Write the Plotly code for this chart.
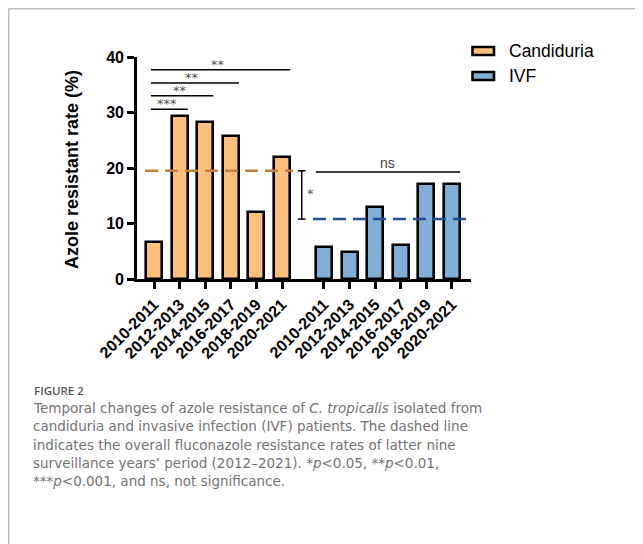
import plotly.graph_objects as go

# ---------------- data ----------------
periods = ["2010-2011", "2012-2013", "2014-2015", "2016-2017", "2018-2019", "2020-2021"]
series_names = ["Candiduria", "IVF"]
candiduria_vals = [6.7, 29.4, 28.2, 25.8, 12.0, 22.0]
ivf_vals = [5.8, 4.9, 13.0, 6.2, 17.1, 17.2]
overall_candiduria = 19.5
overall_ivf = 10.8
y_ticks = [0, 10, 20, 30, 40]
# significance comparisons within candiduria (from index 0 to index j)
cand_sig_targets = [1, 2, 3, 5]
cand_sig_labels = ["***", "**", "**", "**"]
cand_sig_levels = [30.6, 33.0, 35.3, 37.7]
ivf_sig_label = "ns"
ivf_sig_level = 19.3
between_sig_label = "*"

caption_title = "FIGURE 2"
caption_lines = [
    "Temporal changes of azole resistance of <i>C. tropicalis</i> isolated from",
    "candiduria and invasive infection (IVF) patients. The dashed line",
    "indicates the overall fluconazole resistance rates of latter nine",
    "surveillance years\u2019 period (2012\u20132021). *<i>p</i>&lt;0.05, **<i>p</i>&lt;0.01,",
    "***<i>p</i>&lt;0.001, and ns, not significance.",
]

# ---------------- layout constants ----------------
W, H = 643, 544
OFF = 8  # page body margin compensation
FONT = "Liberation Sans, Arial, sans-serif"
CAP_FONT = "DejaVu Sans, Open Sans, sans-serif"
ORANGE = "#FDBF7E"
BLUE = "#80AED6"
ORANGE_LINE = "#C47F3C"
BLUE_LINE = "#1F4E96"
group_gap = 1.64
bar_w = 0.63

cand_x = [i for i in range(len(periods))]
ivf_x = [len(periods) - 1 + group_gap + i for i in range(len(periods))]

def px(x):
    return (x - OFF) / W

def py(y):
    return 1 - (y - OFF) / H

fig = go.Figure()
fig.add_trace(go.Bar(x=cand_x, y=candiduria_vals, width=bar_w, name=series_names[0],
                     marker=dict(color=ORANGE, line=dict(color="black", width=2.6)),
                     showlegend=False))
fig.add_trace(go.Bar(x=ivf_x, y=ivf_vals, width=bar_w, name=series_names[1],
                     marker=dict(color=BLUE, line=dict(color="black", width=2.6)),
                     showlegend=False))

# overall dashed lines
fig.add_trace(go.Scatter(x=[cand_x[0] - 0.35, cand_x[-1] + 0.43], y=[overall_candiduria] * 2,
                         mode="lines", line=dict(color=ORANGE_LINE, width=2.6, dash="13px,7px"),
                         showlegend=False, hoverinfo="skip"))
fig.add_trace(go.Scatter(x=[ivf_x[0] - 0.43, ivf_x[-1] + 0.6], y=[overall_ivf] * 2,
                         mode="lines", line=dict(color=BLUE_LINE, width=2.6, dash="13px,7px"),
                         showlegend=False, hoverinfo="skip"))

shapes = []
annotations = []

# significance lines within candiduria
for j, lab, lev in zip(cand_sig_targets, cand_sig_labels, cand_sig_levels):
    x0 = cand_x[0] - 0.12
    x1 = cand_x[j] + 0.32
    shapes.append(dict(type="line", xref="x", yref="y", x0=x0, x1=x1, y0=lev, y1=lev,
                       line=dict(color="black", width=1.5)))
    annotations.append(dict(xref="x", yref="y", x=(x0 + x1) / 2 - 0.1, y=lev, text=lab,
                            showarrow=False, xanchor="center", yanchor="bottom", yshift=-4,
                            font=dict(family="DejaVu Sans", size=13, color="#555")))

# ns line across IVF
x0 = ivf_x[0] - 0.32
x1 = ivf_x[-1] + 0.32
shapes.append(dict(type="line", xref="x", yref="y", x0=x0, x1=x1, y0=ivf_sig_level, y1=ivf_sig_level,
                   line=dict(color="black", width=1.5)))
annotations.append(dict(xref="x", yref="y", x=(x0 + x1) / 2, y=ivf_sig_level, text=ivf_sig_label,
                        showarrow=False, xanchor="center", yanchor="bottom", yshift=-1,
                        font=dict(family=FONT, size=14, color="#444")))

# bracket between overall lines
bx = cand_x[-1] + 0.77
shapes.append(dict(type="line", xref="x", yref="y", x0=bx, x1=bx, y0=overall_ivf, y1=overall_candiduria,
                   line=dict(color="black", width=1.5)))
for yy in (overall_ivf, overall_candiduria):
    shapes.append(dict(type="line", xref="x", yref="y", x0=bx - 0.15, x1=bx + 0.15, y0=yy, y1=yy,
                       line=dict(color="black", width=1.5)))
annotations.append(dict(xref="x", yref="y", x=bx + 0.12, y=(overall_ivf + overall_candiduria) / 2 + 0.3,
                        text=between_sig_label, showarrow=False, xanchor="left", yanchor="middle",
                        font=dict(family="DejaVu Sans", size=13, color="#555")))

# y axis title
annotations.append(dict(xref="paper", yref="paper", x=px(72), y=py(170), text="<b>Azole resistant rate (%)</b>",
                        textangle=-90, showarrow=False, xanchor="center", yanchor="middle",
                        font=dict(family=FONT, size=18, color="black")))

# legend (manual)
for k, (nm, col) in enumerate(zip(series_names, [ORANGE, BLUE])):
    yc = 51 + 25 * k
    shapes.append(dict(type="rect", xref="paper", yref="paper", x0=px(472.5), x1=px(494),
                       y0=py(yc - 4), y1=py(yc + 4), fillcolor=col,
                       line=dict(color="black", width=2.6)))
    annotations.append(dict(xref="paper", yref="paper", x=px(507), y=py(yc), text=nm, showarrow=False,
                            xanchor="left", yanchor="middle",
                            font=dict(family=FONT, size=17.5, color="black")))

# frame (as close to the page corner as the figure allows)
FRAME = OFF + 0.75
shapes.append(dict(type="line", xref="paper", yref="paper", x0=px(FRAME), x1=1, y0=py(FRAME), y1=py(FRAME),
                   line=dict(color="#bdbdbd", width=1.5)))
shapes.append(dict(type="line", xref="paper", yref="paper", x0=px(FRAME), x1=px(FRAME), y0=py(FRAME), y1=0,
                   line=dict(color="#bdbdbd", width=1.5)))

# caption
annotations.append(dict(xref="paper", yref="paper", x=px(32), y=py(390.3), text=caption_title, showarrow=False,
                        xanchor="left", yanchor="middle",
                        font=dict(family="Open Sans, sans-serif", size=11.5, color="#555", weight=600)))
for i, ln in enumerate(caption_lines):
    annotations.append(dict(xref="paper", yref="paper", x=px(31), y=py(408 + 18.3 * i), text=ln,
                            showarrow=False, xanchor="left", yanchor="middle",
                            font=dict(family=CAP_FONT, size=13.5, color="#737373", weight=400)))

x_left, x_right = 137, 471
y_bot, y_top = 279, 57
unit = 25.6
xr0 = (x_left - 154) / unit
xr1 = (x_right - 154) / unit

fig.update_layout(
    width=W, height=H,
    margin=dict(l=0, r=0, t=0, b=0, pad=0, autoexpand=False),
    paper_bgcolor="white", plot_bgcolor="white",
    bargap=0,
    shapes=shapes,
    annotations=annotations,
    xaxis=dict(domain=[px(x_left), px(x_right)], range=[xr0, xr1], automargin=False,
               tickmode="array", tickvals=cand_x + ivf_x, ticktext=periods + periods,
               tickangle=-45, ticks="outside", ticklen=7, tickwidth=2.6, tickcolor="black",
               showline=True, linecolor="black", linewidth=2.6, showgrid=False, zeroline=False,
               tickfont=dict(family=FONT, size=16, color="black", weight=700)),
    yaxis=dict(domain=[py(y_bot), py(y_top)], range=[0, 40], automargin=False,
               tickmode="array", tickvals=y_ticks,
               ticks="outside", ticklen=7, tickwidth=2.6, tickcolor="black",
               showline=True, linecolor="black", linewidth=2.6, showgrid=False, zeroline=False,
               tickfont=dict(family=FONT, size=16, color="black", weight=700)),
)

fig.write_html("out.html")
